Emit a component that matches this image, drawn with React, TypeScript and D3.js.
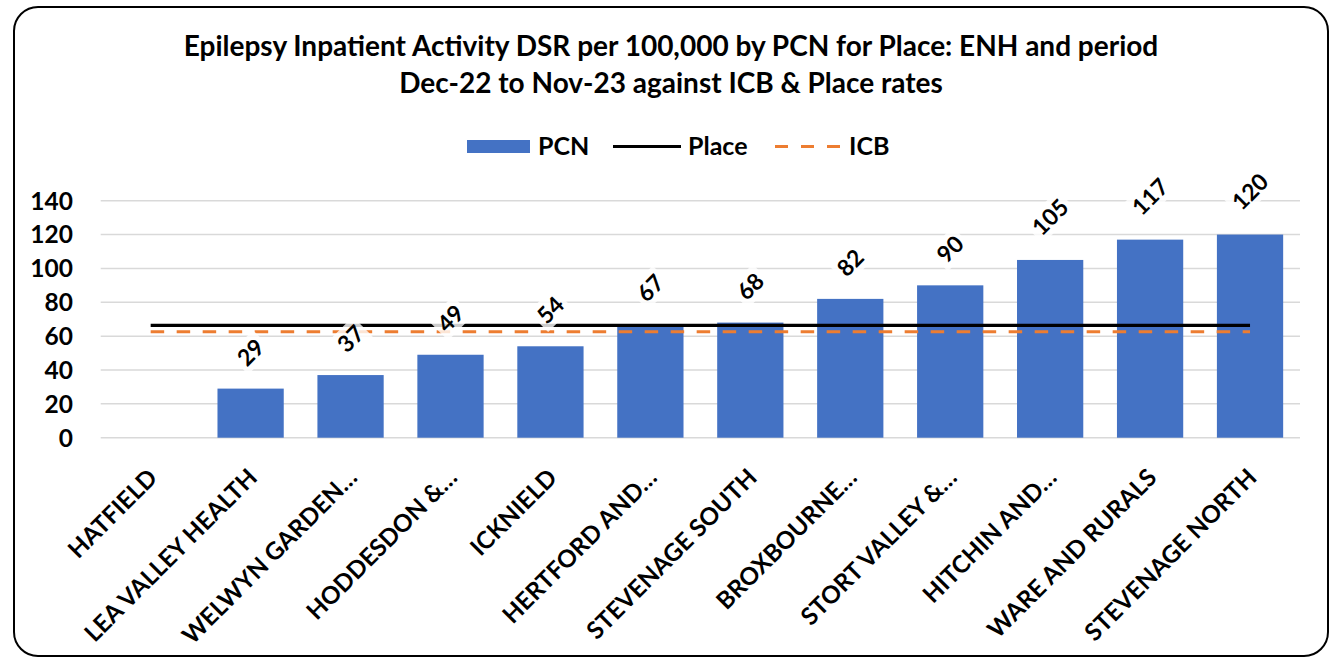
import React from "react";
import * as d3 from "d3";

const categories = [
  "HATFIELD",
  "LEA VALLEY HEALTH",
  "WELWYN GARDEN…",
  "HODDESDON &…",
  "ICKNIELD",
  "HERTFORD AND…",
  "STEVENAGE SOUTH",
  "BROXBOURNE…",
  "STORT VALLEY &…",
  "HITCHIN AND…",
  "WARE AND RURALS",
  "STEVENAGE NORTH",
];
const pcnValues: (number | null)[] = [null, 29, 37, 49, 54, 67, 68, 82, 90, 105, 117, 120];
const placeRate = 66.3;
const icbRate = 62.6;
const yTicks = [0, 20, 40, 60, 80, 100, 120, 140];
const titleLines = [
  "Epilepsy Inpatient Activity DSR per 100,000 by PCN for Place: ENH and period",
  "Dec-22 to Nov-23 against ICB & Place rates",
];

const W = 1342;
const H = 660;
const FONT = "Lato, 'Open Sans', sans-serif";
const BLUE = "#4472C4";
const ORANGE = "#ED7D31";

export default function App() {
  const left = 100.7;
  const right = 1300;
  const top = 200.7;
  const bottom = 437.7;

  const x = d3
    .scaleBand<string>()
    .domain(categories)
    .range([left, right])
    .paddingInner(0.337)
    .paddingOuter(0.1685);
  const y = d3.scaleLinear().domain([0, 140]).range([bottom, top]);
  const cx = (c: string) => (x(c) as number) + x.bandwidth() / 2;

  const firstLast = [categories[0], categories[categories.length - 1]];
  const placePath = d3
    .line<string>()
    .x((c) => cx(c))
    .y(() => y(placeRate))(firstLast) as string;
  const icbPath = d3
    .line<string>()
    .x((c) => cx(c))
    .y(() => y(icbRate))(firstLast) as string;

  return (
    <svg
      width={W}
      height={H}
      style={{ position: "absolute", left: 0, top: 0, background: "#fff" }}
      fontFamily={FONT}
    >
      <rect x={0} y={0} width={W} height={H} fill="#fff" />
      <rect
        x={14}
        y={7}
        width={1314}
        height={649}
        rx={24}
        ry={24}
        fill="#fff"
        stroke="#000"
        strokeWidth={2}
      />
      {/* Title */}
      {titleLines.map((t, i) => (
        <text
          key={i}
          x={671}
          y={56 + i * 37}
          textAnchor="middle"
          fontSize={28}
          fontWeight={700}
          fill="#000"
        >
          {t}
        </text>
      ))}

      {/* Legend */}
      <g fontSize={25} fontWeight={700} fill="#000">
        <rect x={467} y={140} width={63} height={13} fill={BLUE} />
        <text x={538} y={155}>PCN</text>
        <line x1={613} x2={681} y1={146.5} y2={146.5} stroke="#000" strokeWidth={3} />
        <text x={688} y={155}>Place</text>
        <line
          x1={775}
          x2={842}
          y1={146.5}
          y2={146.5}
          stroke={ORANGE}
          strokeWidth={3}
          strokeDasharray="13 13"
        />
        <text x={849} y={155}>ICB</text>
      </g>

      {/* Gridlines */}
      {yTicks.map((t) => (
        <line
          key={t}
          x1={left}
          x2={right}
          y1={y(t)}
          y2={y(t)}
          stroke="#d9d9d9"
          strokeWidth={1.5}
        />
      ))}
      {/* Y tick labels */}
      {yTicks.map((t) => (
        <text
          key={"l" + t}
          x={73}
          y={y(t)}
          dy="0.36em"
          textAnchor="end"
          fontSize={24.5}
          fontWeight={700}
          fill="#000"
        >
          {t}
        </text>
      ))}

      {/* Bars */}
      {categories.map((c, i) => {
        const v = pcnValues[i];
        if (v == null) return null;
        return (
          <rect
            key={c}
            x={x(c)}
            y={y(v)}
            width={x.bandwidth()}
            height={y(0) - y(v)}
            fill={BLUE}
          />
        );
      })}

      {/* Lines */}
      <path d={placePath} stroke="#000" strokeWidth={3.2} fill="none" />
      <path
        d={icbPath}
        stroke={ORANGE}
        strokeWidth={3}
        fill="none"
        strokeDasharray="13.5 12.5"
      />

      {/* Data labels */}
      {categories.map((c, i) => {
        const v = pcnValues[i];
        if (v == null) return null;
        const s = String(v);
        const tw = s.length * 13.3;
        const d = 23 + tw * 0.5;
        const px = cx(c);
        const py = y(v) - d;
        return (
          <g key={"d" + c} transform={`translate(${px},${py}) rotate(-45)`}>
            <rect
              x={-tw / 2 - 4}
              y={-14}
              width={tw + 8}
              height={28}
              fill="#fff"
              opacity={0.8}
            />
            <text
              x={0}
              y={0}
              dy="0.36em"
              textAnchor="middle"
              fontSize={23}
              fontWeight={700}
              fill="#000"
            >
              {s}
            </text>
          </g>
        );
      })}

      {/* X labels */}
      {categories.map((c) => (
        <text
          key={"x" + c}
          transform={`translate(${cx(c) + 2},${473}) rotate(-45)`}
          textAnchor="end"
          dy="0.36em"
          fontSize={24.2}
          fontWeight={700}
          fill="#000"
        >
          {c}
        </text>
      ))}
    </svg>
  );
}
